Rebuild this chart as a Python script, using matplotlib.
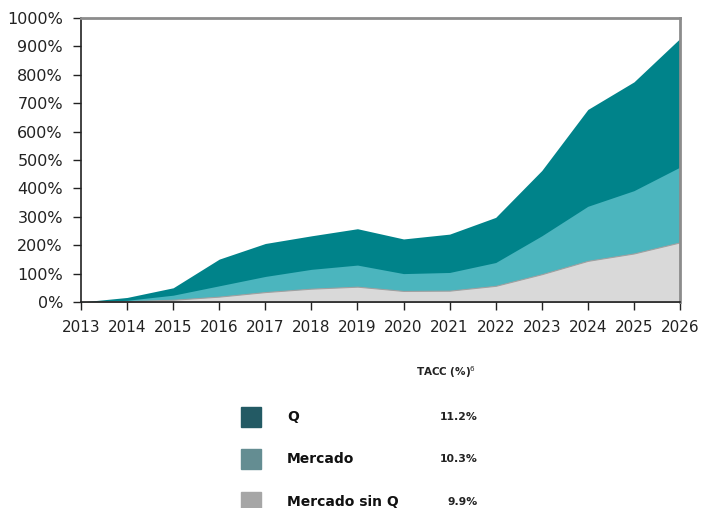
import matplotlib
matplotlib.use("Agg")
import matplotlib.pyplot as plt
from matplotlib.patches import Rectangle
from matplotlib.ticker import FuncFormatter

years = list(range(2013, 2027))

# acumulado (%)
q_vals = [0, 16, 50, 151, 206, 233, 258, 222, 239, 298, 463, 678, 775, 928]
mercado_vals = [0, 6, 24, 57, 90, 115, 130, 100, 104, 139, 233, 337, 392, 475]
sin_q_vals = [0, 3, 8, 19, 35, 47, 54, 39, 40, 57, 98, 145, 171, 210]

series_names = ["Q", "Mercado", "Mercado sin Q"]
tacc = ["11.2%", "10.3%", "9.9%"]

area_colors = ["#00838a", "#4bb5be", "#d9d9d9"]
legend_colors = ["#235a64", "#648d92", "#a6a6a6"]

fig = plt.figure(figsize=(7.01, 5.08), dpi=100)
ax = fig.add_axes([81 / 701, 1 - 302 / 508, 599 / 701, 284 / 508])

ax.fill_between(years, 0, q_vals, color=area_colors[0], linewidth=0)
ax.fill_between(years, 0, mercado_vals, color=area_colors[1], linewidth=0)
ax.fill_between(years, 0, sin_q_vals, color=area_colors[2],
                edgecolor="#a0a0a0", linewidth=0.8)

ax.set_xlim(2013, 2026)
ax.set_ylim(0, 1000)
ax.set_xticks(years)
ax.set_yticks(range(0, 1001, 100))
ax.yaxis.set_major_formatter(FuncFormatter(lambda v, p: f"{int(v)}%"))
ax.tick_params(axis="both", color="#222222", length=6, width=1,
               labelcolor="#222222")
ax.tick_params(axis="y", labelsize=11.5, pad=7)
ax.tick_params(axis="x", labelsize=11, pad=7)

for side in ["top", "right"]:
    ax.spines[side].set_color("#8c8c8c")
    ax.spines[side].set_linewidth(2)
for side in ["left", "bottom"]:
    ax.spines[side].set_color("#222222")
    ax.spines[side].set_linewidth(1.2)

# leyenda con TACC
fig.text(476 / 701, 1 - 372 / 508, r"TACC (%)$^{6}$", ha="right", va="center",
         fontsize=7.5, fontweight="bold", color="#222222")
row_y = [417, 459, 502]
for name, val, col, y in zip(series_names, tacc, legend_colors, row_y):
    fig.patches.append(Rectangle((241 / 701, 1 - (y + 10) / 508), 20 / 701, 20 / 508,
                                 transform=fig.transFigure, color=col))
    fig.text(287 / 701, 1 - y / 508, name, ha="left", va="center",
             fontsize=10, fontweight="bold", color="#111111")
    fig.text(478 / 701, 1 - y / 508, val, ha="right", va="center",
             fontsize=7.8, fontweight="bold", color="#222222")

fig.savefig("out.png", dpi=100)
